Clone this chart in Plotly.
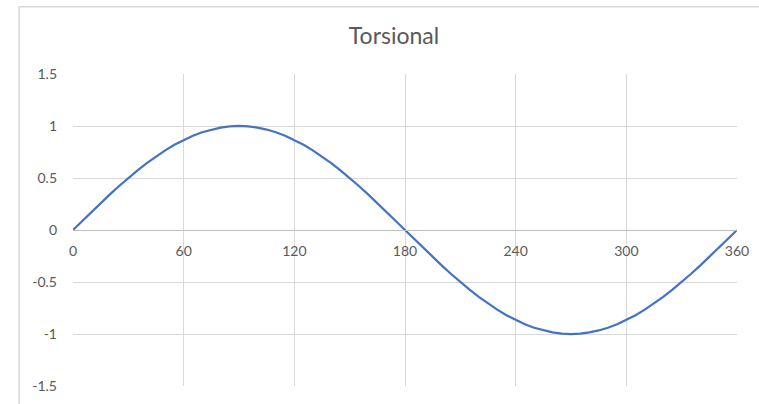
import plotly.graph_objects as go

angles = [0, 5, 10, 15, 20, 25, 30, 35, 40, 45, 50, 55, 60, 65, 70, 75, 80, 85, 90,
          95, 100, 105, 110, 115, 120, 125, 130, 135, 140, 145, 150, 155, 160, 165, 170, 175, 180,
          185, 190, 195, 200, 205, 210, 215, 220, 225, 230, 235, 240, 245, 250, 255, 260, 265, 270,
          275, 280, 285, 290, 295, 300, 305, 310, 315, 320, 325, 330, 335, 340, 345, 350, 355, 360]
torsional = [0.0, 0.087, 0.174, 0.259, 0.342, 0.423, 0.5, 0.574, 0.643, 0.707, 0.766, 0.819, 0.866, 0.906, 0.94, 0.966, 0.985, 0.996, 1.0,
             0.996, 0.985, 0.966, 0.94, 0.906, 0.866, 0.819, 0.766, 0.707, 0.643, 0.574, 0.5, 0.423, 0.342, 0.259, 0.174, 0.087, 0.0,
             -0.087, -0.174, -0.259, -0.342, -0.423, -0.5, -0.574, -0.643, -0.707, -0.766, -0.819, -0.866, -0.906, -0.94, -0.966, -0.985, -0.996, -1.0,
             -0.996, -0.985, -0.966, -0.94, -0.906, -0.866, -0.819, -0.766, -0.707, -0.643, -0.574, -0.5, -0.423, -0.342, -0.259, -0.174, -0.087, 0.0]
x_ticks = [0, 60, 120, 180, 240, 300, 360]
y_ticks = [-1.5, -1, -0.5, 0, 0.5, 1, 1.5]
y_labels = ["-1.5", "-1", "-0.5", "0", "0.5", "1", "1.5"]

W, H = 759, 404
L, R, T, B = 73, 20, 74, 10
pw, ph = W - L - R, H - T - B

fig = go.Figure()
fig.add_trace(go.Scatter(x=angles, y=torsional, mode="lines",
                         line=dict(color="#4472C4", width=2.25), showlegend=False,
                         hoverinfo="skip"))

font_family = "Lato, 'Open Sans', sans-serif"
fig.update_layout(
    width=W, height=H,
    margin=dict(l=L, r=R, t=T, b=B),
    paper_bgcolor="white", plot_bgcolor="white",
    title=dict(text="Torsional", x=394 / W, xanchor="center",
               y=1 - 36 / H, yanchor="middle", yref="container",
               font=dict(family=font_family, size=23, color="#595959")),
    xaxis=dict(range=[0, 360], tickvals=x_ticks, ticktext=[str(v) for v in x_ticks],
               showgrid=True, gridcolor="#D9D9D9", gridwidth=1,
               zeroline=False, showline=True, linecolor="#BFBFBF", linewidth=1,
               anchor="free", position=0.5, ticks="", ticklen=0, ticklabelstandoff=8,
               tickfont=dict(family=font_family, size=14, color="#595959")),
    yaxis=dict(range=[-1.5, 1.5], tickvals=y_ticks, ticktext=y_labels,
               showgrid=True, gridcolor="#D9D9D9", gridwidth=1,
               zeroline=False, showline=False, ticks="", ticklabelstandoff=15,
               tickfont=dict(family=font_family, size=14, color="#595959")),
    shapes=[dict(type="rect", xref="paper", yref="paper",
                 x0=(19 - L) / pw, x1=1.1, y0=-0.2, y1=1 + (T - 5) / ph,
                 line=dict(color="#D9D9D9", width=1.5), layer="below")],
)

fig.write_html("out.html", config={"displayModeBar": False},
               post_script="document.body.style.margin='0';document.body.style.padding='0';")
